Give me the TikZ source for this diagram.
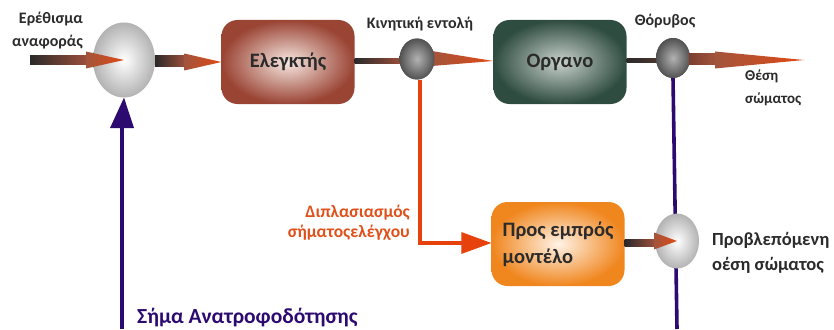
\documentclass[tikz,border=0pt]{standalone}
\usepackage{fontspec}
\setmainfont{Carlito}[BoldFont={Carlito Bold}]
\usetikzlibrary{shapes.geometric,calc}

\definecolor{ink}{HTML}{2B2B2B}
\definecolor{feedback}{HTML}{2D0A70}
\definecolor{dup}{HTML}{E8420C}
\definecolor{duptext}{HTML}{E0501A}
\definecolor{shaftdark}{HTML}{2A2A2A}
\definecolor{shaftbrown}{HTML}{9A4E3A}
\definecolor{headbrown}{HTML}{A2543C}
\definecolor{headorange}{HTML}{E04A14}
\definecolor{ctrlin}{HTML}{F7E8E2}
\definecolor{ctrlout}{HTML}{9A4434}
\definecolor{plantin}{HTML}{C9D2CC}
\definecolor{plantout}{HTML}{2F4C40}
\definecolor{modelin}{HTML}{FFF3E6}
\definecolor{modelout}{HTML}{F0861E}

\tikzset{
  blockbox/.style={rounded corners=16pt, minimum width=133pt, minimum height=84pt,
    inner sep=0pt, font=\fontsize{20.5}{27}\selectfont\bfseries, text=ink},
  lightsum/.style={ellipse, inner sep=0pt, inner color=white, outer color=black!30},
  darksum/.style={ellipse, inner sep=0pt, inner color=black!30, outer color=black!68},
  label/.style={font=\fontsize{16}{23}\selectfont\bfseries, text=ink, inner sep=0pt},
  feedline/.style={draw=feedback, line width=3.6pt},
  dupline/.style={draw=dup, line width=3.6pt},
}

% horizontal fat arrow: start, tip, head length, shaft half height, head half height
\newcommand\fatarrow[5]{%
  \shade[left color=shaftdark, right color=shaftbrown]
    ($(#1)+(0,-#4)$) rectangle ($(#2)+(-#3,#4)$);
  \shade[left color=headbrown, right color=headorange]
    ($(#2)+(-#3,-#5)$) -- (#2) -- ($(#2)+(-#3,#5)$) -- cycle;
}

\begin{document}
\begin{tikzpicture}[x=1pt,y=-1pt]
\useasboundingbox (0,0) rectangle (834,329);

% summing junctions
\node[lightsum, minimum width=62pt, minimum height=75pt] (sum1) at (124,60) {};
\node[darksum, minimum width=35pt, minimum height=41pt] (split) at (417,59) {};
\node[darksum, minimum width=34pt, minimum height=40pt] (noise) at (673,58) {};

% blocks
\node[blockbox, inner color=ctrlin, outer color=ctrlout] (ctrl) at (288,62) {Ελεγκτής};
\node[blockbox, inner color=plantin, outer color=plantout] (plant) at (560,62) {Οργανο};
\node[blockbox, inner color=modelin, outer color=modelout,
      align=left] (model) at (558,244) {Προς εμπρός\\μοντέλο};

% vertical feedback path behind the lower junction
\coordinate (fbbot) at (677,329);
\draw[feedline] (noise.south) -- (fbbot);
\node[lightsum, minimum width=44pt, minimum height=55pt] (sum2) at (677,241) {};

% free ends of the main path
\coordinate (ref) at (30,60);
\coordinate (out) at (804,60);

% forward path arrows
\fatarrow{ref}{sum1.center}{38}{4}{8.5}
\fatarrow{sum1.east}{ctrl.west}{37}{4}{8.5}
\shade[left color=shaftdark, right color=shaftbrown]
  ($(ctrl.east)+(0,-4)$) rectangle ($(split.west)+(2,4)$);
\shade[left color=headbrown, right color=headorange]
  ($(split.east)+(-3,-8)$) -- ($(plant.west)+(0,-1)$) -- ($(split.east)+(-3,7)$) -- cycle;
\node[darksum, minimum width=35pt, minimum height=41pt] at (split) {};
\shade[left color=shaftdark, right color=shaftdark!70!shaftbrown]
  ($(plant.east)+(0,-4)$) rectangle ($(noise.west)+(2,4)$);
\node[darksum, minimum width=34pt, minimum height=40pt] at (noise) {};
\shade[left color=shaftbrown!80!black, right color=headbrown]
  ($(noise.east)+(-1,-4)$) rectangle (715,64);
\coordinate (outhead) at (715,60);
\shade[left color=headbrown, right color=headorange]
  ($(outhead)+(0,-8.5)$) -- (out) -- ($(outhead)+(0,8.5)$) -- cycle;

% duplicated control signal to the forward model
\coordinate (dupcorner) at (420,243);
\draw[dupline] ($(split.south)+(3,0)$) -- (dupcorner) -- ($(model.west)+(-26,-1)$);
\fill[dup] ($(model.west)+(-30,-12)$) -- ($(model.west)+(0,-1)$) -- ($(model.west)+(-30,10)$) -- cycle;

% model output to the prediction junction
\fatarrow{model.east}{sum2.center}{23}{5}{8.5}

% feedback to the reference junction
\coordinate (fbleft) at (122,329);
\draw[feedline] (fbleft) -- (122,126);
\fill[feedback] (110,128) -- (sum1.south) -- (134,128) -- cycle;

% labels
\node[label, align=right, anchor=east] at (83,31) {Ερέθισμα\\αναφοράς};
\node[label] at (420,24) {Κινητική εντολή};
\node[label] at (665,21) {Θόρυβος};
\node[label, align=left, anchor=west, font=\fontsize{15}{23}\selectfont\bfseries] at (745,88) {Θέση\\σώματος};
\node[label, text=duptext, align=right, anchor=east, font=\fontsize{17.5}{20}\selectfont\bfseries] at (410,223) {Διπλασιασμός\\σήματοςελέγχου};
\node[label, align=left, anchor=west, font=\fontsize{18.5}{25}\selectfont\bfseries] at (712,253) {Προβλεπόμενη\\οέση σώματος};
\node[label, anchor=west, text=feedback, font=\fontsize{21.5}{24}\selectfont\bfseries] at (137,318) {Σήμα Ανατροφοδότησης};
\end{tikzpicture}
\end{document}
